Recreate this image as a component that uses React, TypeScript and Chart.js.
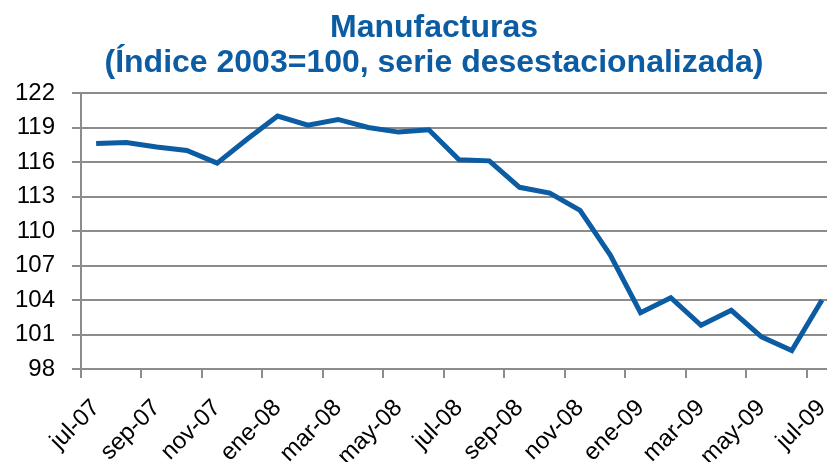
import React, { useEffect, useRef } from "react";
import { Chart, registerables } from "chart.js";

Chart.register(...registerables);

const months = [
  "jul-07", "ago-07", "sep-07", "oct-07", "nov-07", "dic-07",
  "ene-08", "feb-08", "mar-08", "abr-08", "may-08", "jun-08",
  "jul-08", "ago-08", "sep-08", "oct-08", "nov-08", "dic-08",
  "ene-09", "feb-09", "mar-09", "abr-09", "may-09", "jun-09", "jul-09",
];

const values = [
  117.6, 117.7, 117.3, 117.0, 115.9, 118.0,
  120.0, 119.2, 119.7, 119.0, 118.6, 118.8,
  116.2, 116.1, 113.8, 113.3, 111.8, 107.9,
  102.9, 104.2, 101.8, 103.1, 100.8, 99.6, 104.0,
];

const titleLines = ["Manufacturas", "(Índice 2003=100, serie desestacionalizada)"];
const yMin = 98;
const yMax = 122;
const yStep = 3;

const FONT = "'Liberation Sans', Arial, Helvetica, sans-serif";
const BLUE = "#0B5CA3";
const GRID = "#8c8c8c";

export default function App() {
  const ref = useRef<HTMLCanvasElement | null>(null);

  useEffect(() => {
    if (!ref.current) return;

    const titlePlugin = {
      id: "customTitle",
      afterDraw(chart: any) {
        const ctx = chart.ctx;
        ctx.save();
        ctx.fillStyle = BLUE;
        ctx.font = `bold 32px ${FONT}`;
        ctx.textAlign = "center";
        ctx.textBaseline = "alphabetic";
        ctx.fillText(titleLines[0], 434, 37);
        ctx.fillText(titleLines[1], 434, 72);
        ctx.restore();
      },
    };

    const tickMarkPlugin = {
      id: "catTicks",
      afterDraw(chart: any) {
        const xs = chart.scales.x;
        const ctx = chart.ctx;
        ctx.save();
        ctx.strokeStyle = GRID;
        ctx.lineWidth = 2;
        for (let v = -0.5; v <= xs.max; v += 2) {
          const px = Math.round(xs.getPixelForValue(v));
          ctx.beginPath();
          ctx.moveTo(px, xs.top);
          ctx.lineTo(px, xs.top + 9);
          ctx.stroke();
        }
        ctx.restore();
      },
    };

    const chart = new Chart(ref.current, {
      type: "line",
      data: {
        datasets: [
          {
            data: values.map((v, i) => ({ x: i, y: v })),
            borderColor: BLUE,
            borderWidth: 5,
            pointRadius: 0,
            tension: 0,
            fill: false,
          },
        ],
      },
      options: {
        animation: false,
        responsive: false,
        layout: { padding: { top: 93, left: 0, right: 0, bottom: 0 } },
        plugins: {
          legend: { display: false },
          title: { display: false },
          tooltip: { enabled: false },
        },
        scales: {
          x: {
            type: "linear",
            min: -0.5,
            max: 24.165,
            afterBuildTicks: (s: any) => {
              s.ticks = months
                .map((_, i) => ({ value: i }))
                .filter((t) => t.value % 2 === 0);
            },
            afterFit: (s: any) => {
              s.height = 93;
              s.paddingLeft = 0;
              s.paddingRight = 0;
            },
            grid: {
              display: true,
              color: "transparent",
              drawOnChartArea: false,
              drawTicks: true,
              tickLength: 9,
            },
            border: { display: true, color: GRID, width: 2 },
            ticks: {
              autoSkip: false,
              maxRotation: 45,
              minRotation: 45,
              padding: 16,
              color: "#000",
              font: { family: FONT, size: 24 },
              callback: (value: any) => months[Number(value)] ?? "",
            },
          },
          y: {
            min: yMin,
            max: yMax,
            afterFit: (s: any) => {
              s.width = 81;
            },
            grid: {
              color: GRID,
              lineWidth: 2,
              tickLength: 9,
              drawTicks: true,
            },
            border: { display: true, color: GRID, width: 2 },
            ticks: {
              stepSize: yStep,
              padding: 17,
              color: "#000",
              font: { family: FONT, size: 24 },
            },
          },
        },
      },
      plugins: [titlePlugin, tickMarkPlugin],
    } as any);

    return () => chart.destroy();
  }, []);

  return (
    <div style={{ position: "fixed", left: 0, top: 0, width: 827, height: 462, background: "#fff" }}>
      <canvas ref={ref} width={827} height={462} />
    </div>
  );
}
